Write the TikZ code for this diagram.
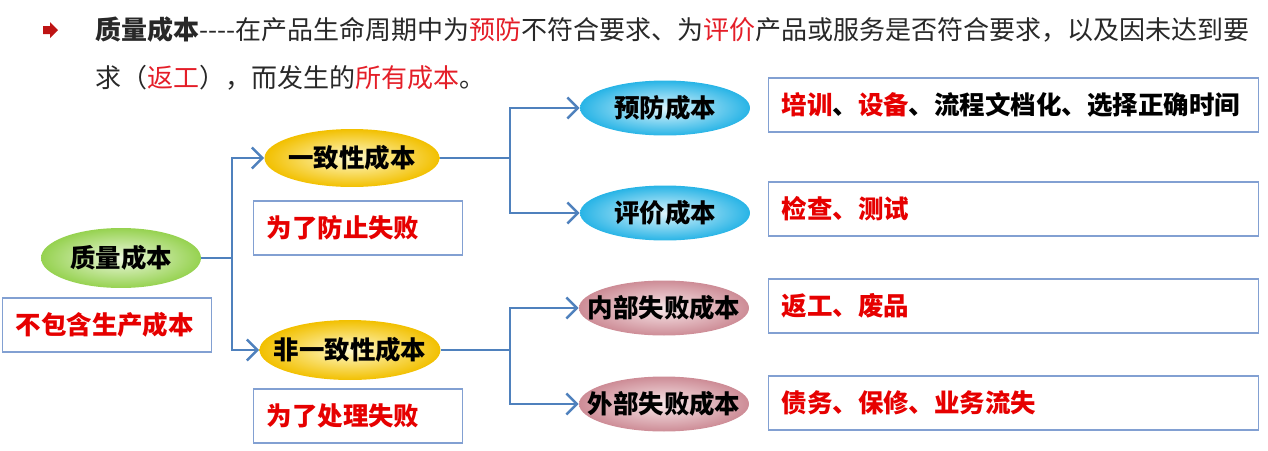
\documentclass[tikz,border=0pt]{standalone}
\usepackage{fontspec}
\setmainfont{Noto Sans CJK SC}
\usetikzlibrary{positioning}
\usetikzlibrary{shapes.geometric}
\usetikzlibrary{arrows.meta}
\definecolor{linkblue}{RGB}{79,129,189}
\definecolor{boxblue}{RGB}{130,160,210}
\definecolor{textred}{RGB}{230,0,0}
\definecolor{titlered}{RGB}{228,30,40}
\definecolor{titlegray}{RGB}{40,40,40}
\definecolor{bulletred}{RGB}{190,20,20}
\definecolor{greenin}{RGB}{236,247,222}
\definecolor{greenout}{RGB}{150,210,80}
\definecolor{yellowin}{RGB}{255,250,205}
\definecolor{yellowout}{RGB}{242,192,0}
\definecolor{cyanin}{RGB}{222,245,252}
\definecolor{cyanout}{RGB}{40,180,230}
\definecolor{pinkin}{RGB}{248,232,234}
\definecolor{pinkout}{RGB}{205,140,150}

\begin{document}
\begin{tikzpicture}[x = 0.02cm, y = -0.02cm, font = \fontsize{14.5}{18}\selectfont,
		cost/.style = {ellipse, minimum width = 3.4cm, minimum height = 1.1cm, inner ysep = 0pt, inner xsep = -0.4cm, shading = radial, font = \fontsize{14.5}{18}\selectfont\bfseries},
		smallnote/.style = {draw = boxblue, line width = 0.7pt, anchor = west, minimum height = 1.08cm, inner xsep = 0.26cm, text width = 3.66cm, align = left, text = textred, font = \fontsize{14.5}{18}\selectfont\bfseries},
		widenote/.style = {smallnote, text width = 9.28cm},
		titleline/.style = {anchor = west, inner sep = 0pt, text = titlegray, font = \fontsize{14.8}{18}\selectfont},
		link/.style = {linkblue, line width = 1.4pt, -{Straight Barb[length = 6pt, width = 12pt]}}]
	\useasboundingbox (0, 0) rectangle (1268, 450);
	\fill [bulletred] (43, 26) -- (50, 26) -- (50, 22) -- (58, 30) -- (50, 38) -- (50, 34) -- (43, 34) -- cycle;
	\node [titleline] (title1) at (95, 30) {\textbf{质量成本}-{}-{}-{}-在产品生命周期中为\textcolor{titlered}{预防}不符合要求、为\textcolor{titlered}{评价}产品或服务是否符合要求，以及因未达到要};
	\node [titleline] (title2) at (95, 78) {求（\textcolor{titlered}{返工}），而发生的\textcolor{titlered}{所有成本}。};

	\node [cost, minimum width = 3.2cm, minimum height = 1.2cm, inner color = greenin, outer color = greenout] (zlcb) at (121, 258) {质量成本};
	\node [smallnote] (bbh) at (2, 325) {不包含生产成本};
	\node [cost, minimum width = 3.5cm, minimum height = 1.16cm, inner color = yellowin, outer color = yellowout] (yzx) at (352, 158) {一致性成本};
	\node [smallnote] (fzsb) at (253, 228) {为了防止失败};
	\node [cost, minimum width = 3.62cm, minimum height = 1.2cm, inner color = yellowin, outer color = yellowout] (fyzx) at (350, 350) {非一致性成本};
	\node [smallnote] (clsb) at (253, 416) {为了处理失败};

	\node [cost, inner color = cyanin, outer color = cyanout] (yfcb) at (665, 108) {预防成本};
	\node [cost, inner color = cyanin, outer color = cyanout] (pjcb) at (665, 213) {评价成本};
	\node [cost, inner color = pinkin, outer color = pinkout] (nbcb) at (664, 308) {内部失败成本};
	\node [cost, inner color = pinkin, outer color = pinkout] (wbcb) at (664, 404) {外部失败成本};

	\node [widenote] (yfnote) at (768, 105) {培训\textcolor{black}{、}设备\textcolor{black}{、流程文档化、选择正确时间}};
	\node [widenote] (pjnote) at (768, 209) {检查、测试};
	\node [widenote] (nbnote) at (768, 306) {返工、废品};
	\node [widenote] (wbnote) at (768, 403) {债务、保修、业务流失};

	\coordinate (s1) at (232, 258);
	\coordinate (s2) at (510, 158);
	\coordinate (s3) at (510, 350);
	\draw [link] (zlcb.east) -- (s1) |- (yzx.west);
	\draw [link] (zlcb.east) -- (s1) |- (fyzx.west);
	\draw [link] (yzx.east) -- (s2) |- (yfcb.west);
	\draw [link] (yzx.east) -- (s2) |- (pjcb.west);
	\draw [link] (fyzx.east) -- (s3) |- (nbcb.west);
	\draw [link] (fyzx.east) -- (s3) |- (wbcb.west);
\end{tikzpicture}
\end{document}
